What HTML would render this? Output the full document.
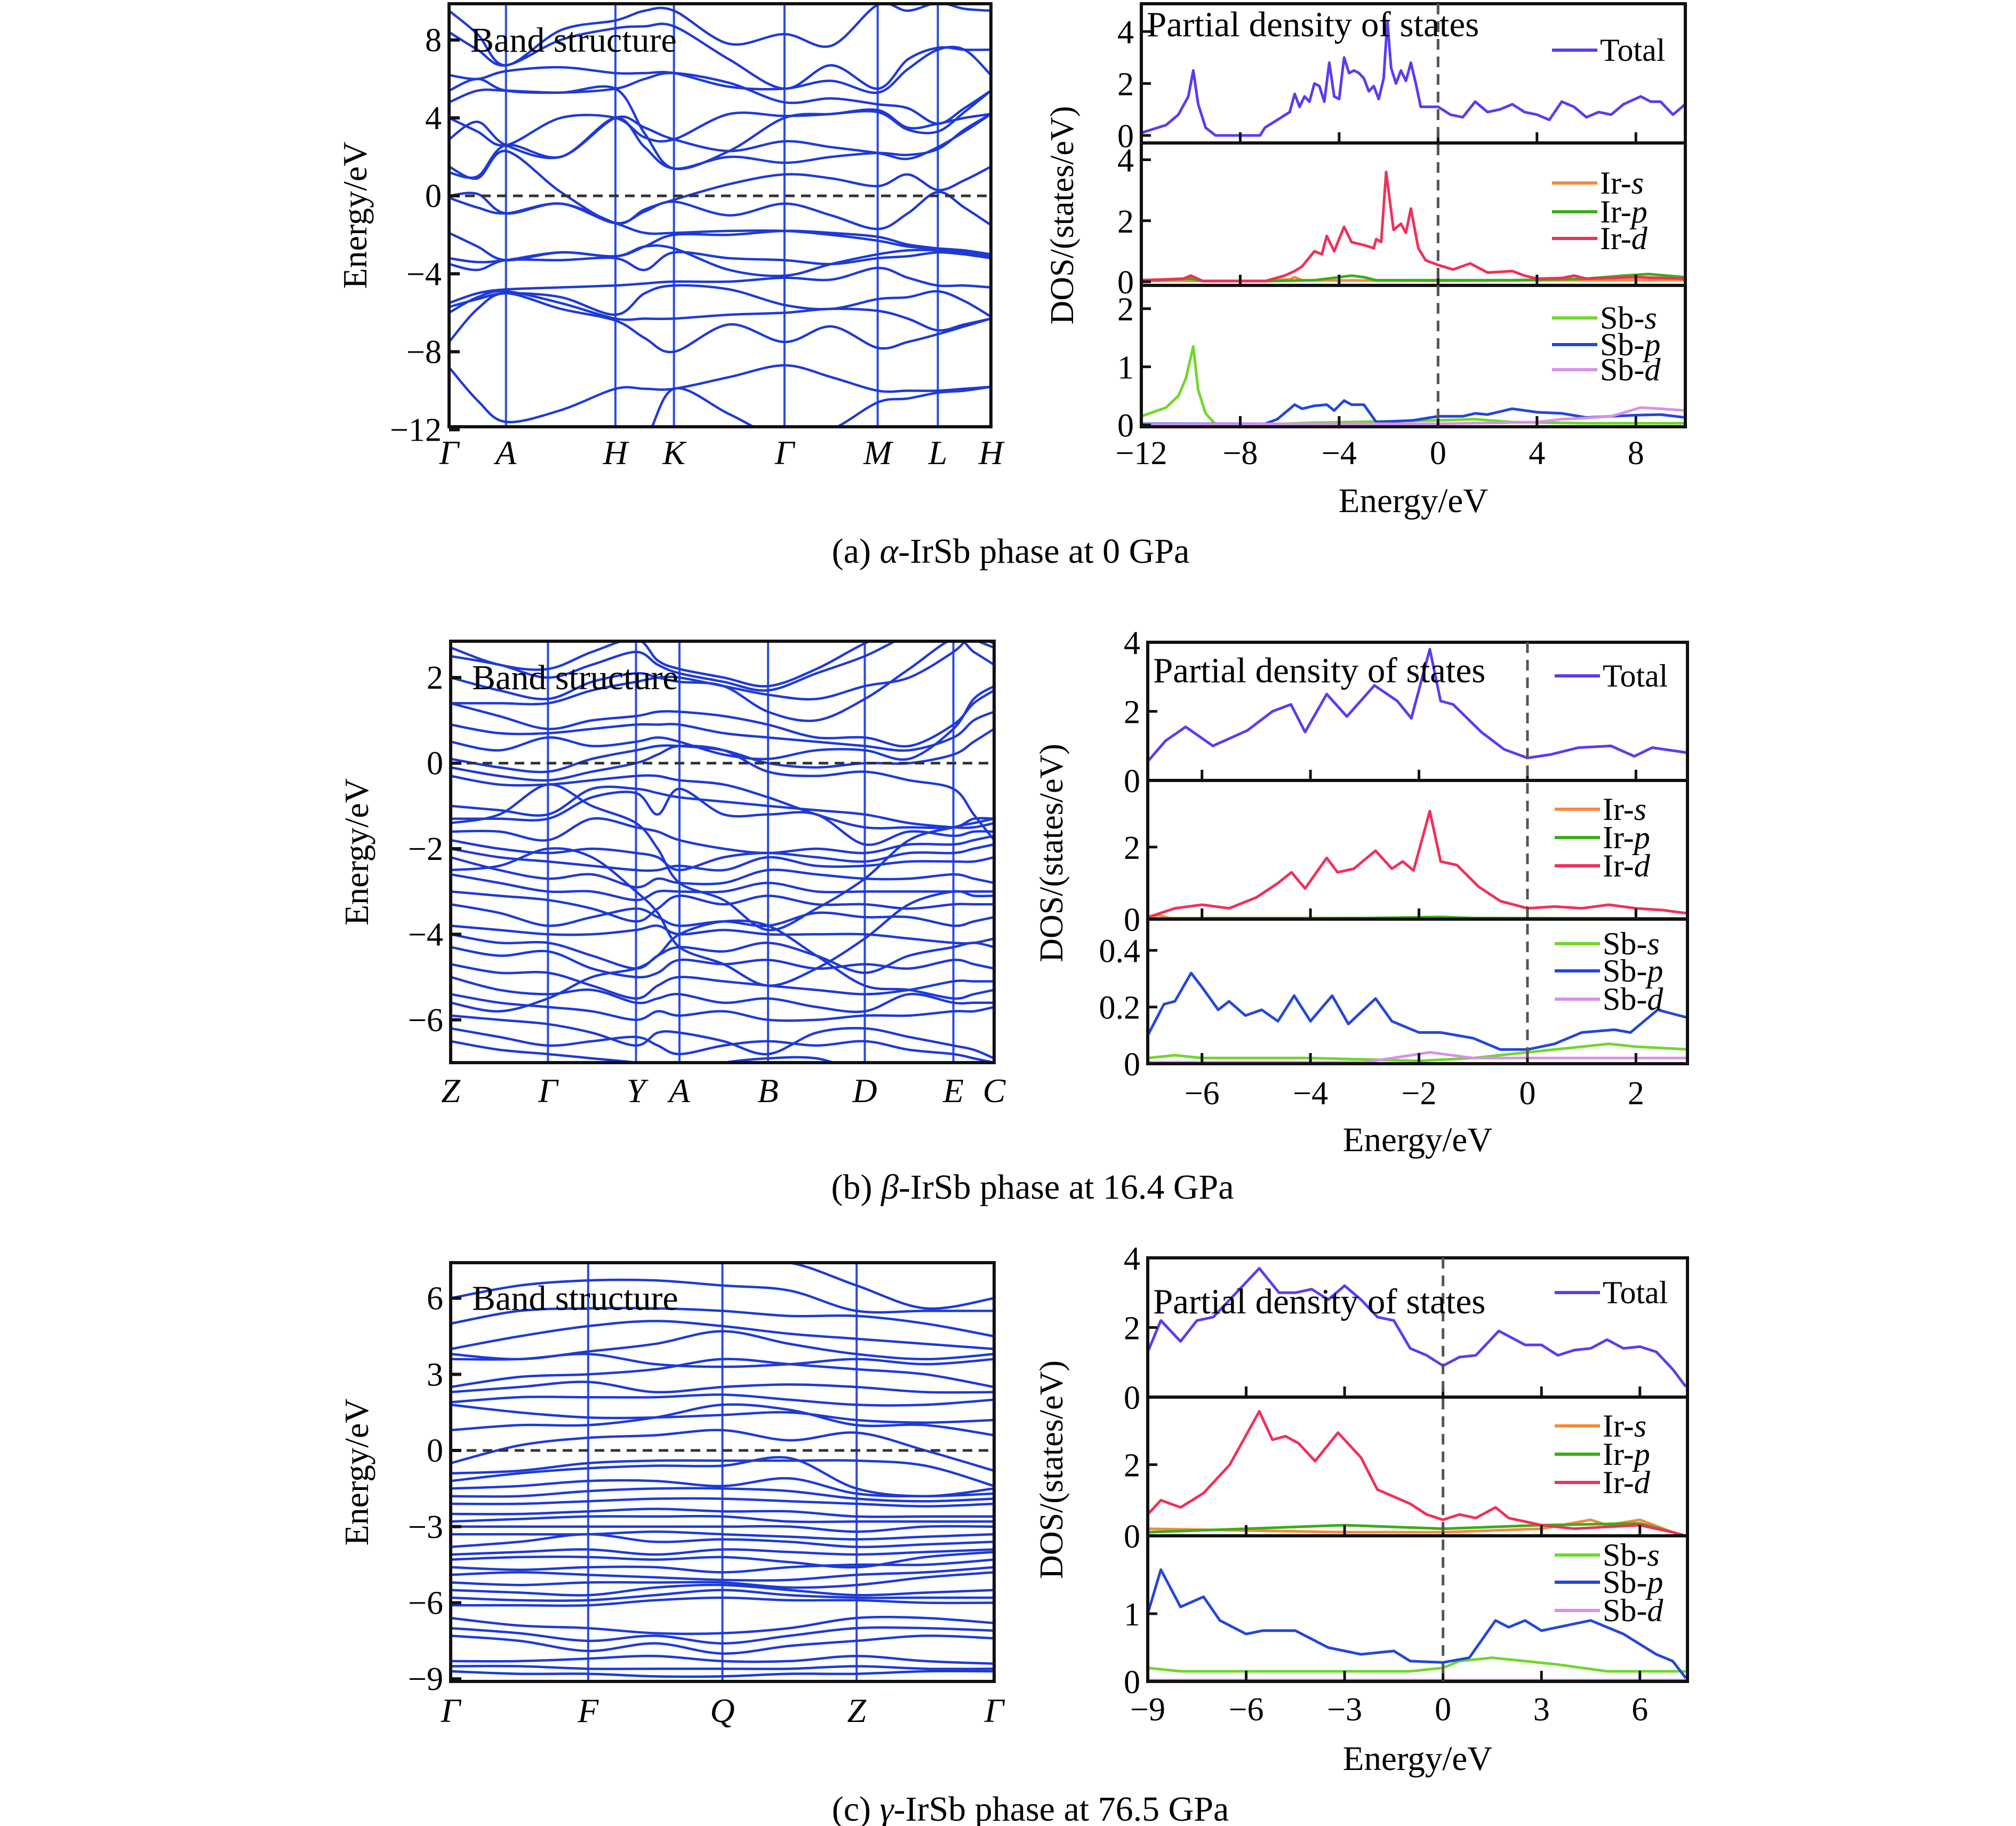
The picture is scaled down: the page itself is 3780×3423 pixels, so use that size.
<!DOCTYPE html>
<html><head><meta charset="utf-8">
<style>
html,body{margin:0;padding:0;background:#fff;}
svg{display:block;font-family:"Liberation Serif",serif;}
</style></head>
<body>
<svg id="fig" xmlns="http://www.w3.org/2000/svg" width="3780" height="3423" viewBox="0 0 3780 3423">
<rect x="0" y="0" width="3780" height="3423" fill="#fff"/>
<g id="root"></g>
<text x="1895" y="1055" font-size="66" text-anchor="middle">(a) <tspan font-style="italic">α</tspan>-IrSb phase at 0 GPa</text>
<text x="1936" y="2247" font-size="66" text-anchor="middle">(b) <tspan font-style="italic">β</tspan>-IrSb phase at 16.4 GPa</text>
<text x="1932" y="3413" font-size="66" text-anchor="middle">(c) <tspan font-style="italic">γ</tspan>-IrSb phase at 76.5 GPa</text>
</svg>
<script>
// ---------------- DATA ----------------
const kLabelsA = ["Γ","A","H","K","Γ","M","L","H"];
const kFracA = [0,0.105,0.307,0.415,0.619,0.791,0.902,1];
const bandsA = [
[-8.8,-10.5,-11.6,-11.0,-9.9,-9.9,-9.9,-9.3,-8.7,-9.3,-10.0,-10.0,-10.0,-9.9,-9.8],
[-12.5,-12.5,-12.2,-12.5,-12.5,-12.5,-9.9,-11.2,-12.5,-12.0,-10.6,-10.4,-10.1,-10.0,-9.8],
[-7.5,-5.8,-5.0,-5.8,-6.4,-7.3,-8.0,-6.6,-7.5,-6.7,-7.8,-7.5,-7.1,-6.7,-6.3],
[-6.0,-5.2,-4.9,-5.5,-6.3,-6.3,-6.3,-6.1,-6.0,-5.8,-5.9,-6.3,-6.9,-6.6,-6.3],
[-5.7,-5.3,-5.0,-5.2,-6.1,-5.0,-4.6,-4.8,-5.6,-5.8,-5.3,-5.2,-4.9,-5.4,-6.2],
[-5.5,-5.0,-4.8,-4.7,-4.6,-4.5,-4.4,-4.4,-4.2,-4.3,-3.7,-4.2,-4.6,-4.6,-4.7],
[-3.5,-3.8,-3.3,-3.3,-3.2,-3.8,-2.9,-3.2,-3.3,-3.5,-3.2,-3.1,-2.9,-3.0,-3.1],
[-3.2,-3.4,-3.3,-2.9,-3.1,-2.6,-2.7,-3.8,-4.1,-3.5,-3.0,-2.8,-2.8,-3.0,-3.2],
[-1.9,-2.6,-3.3,-2.9,-3.1,-2.6,-2.0,-2.0,-1.8,-1.9,-2.1,-2.5,-2.7,-2.9,-3.1],
[-0.1,-0.6,-0.9,-0.4,-1.4,-1.9,-1.9,-1.8,-1.8,-2.0,-2.3,-2.6,-2.7,-2.8,-3.0],
[0.0,0.1,-0.9,-0.4,-1.4,-0.8,-0.3,-1.0,-0.4,-1.0,-1.7,-0.9,0.2,-0.6,-1.5],
[1.5,0.9,2.3,0.2,-1.4,-0.7,-0.2,0.6,1.1,0.9,0.5,1.1,0.3,0.8,1.5],
[1.2,1.0,2.6,2.0,4.0,2.5,1.4,2.0,1.7,2.0,2.2,2.1,2.4,3.4,4.2],
[2.9,3.8,2.6,2.0,4.0,3.5,2.9,2.3,2.8,2.5,2.2,1.9,2.5,3.3,4.2],
[4.0,3.3,2.6,4.0,4.0,3.0,2.9,4.2,4.1,4.2,4.4,3.5,3.7,4.0,4.2],
[4.8,5.4,5.4,5.3,5.5,3.2,1.4,2.3,4.0,4.2,4.3,3.4,3.3,4.3,5.4],
[5.4,6.0,5.4,5.3,5.5,6.0,6.3,5.8,4.8,5.0,4.7,4.5,3.7,4.5,5.4],
[6.2,6.0,6.4,6.6,6.3,6.3,6.3,5.6,5.5,5.9,5.3,6.5,7.5,7.5,6.2],
[8.4,7.5,6.7,8.0,8.6,8.7,8.7,7.0,5.5,6.7,5.5,7.0,7.6,7.5,7.5],
[9.5,8.3,6.7,8.5,9.0,9.5,9.5,7.8,8.3,7.7,9.8,9.5,9.9,9.6,9.5]
];
const yTicksBandA = [8,4,0,-4,-8,-12];

const kLabelsB = ["Z","Γ","Y","A","B","D","E","C"];
const kFracB = [0,0.179,0.341,0.421,0.584,0.762,0.925,1];
const bandsB = [
[2.7,2.3,2.2,2.6,2.9,2.4,2.2,2.0,1.8,2.2,2.8,3.2,3.2,2.9,2.7],
[2.5,2.3,2.0,2.3,2.6,2.3,2.1,1.9,1.7,2.1,2.5,3.0,3.3,3.0,2.8],
[2.0,1.7,1.5,1.9,2.1,2.0,1.9,1.8,1.2,1.0,1.5,2.2,2.9,2.6,2.3],
[1.4,1.4,1.4,1.7,1.9,2.0,2.0,1.8,1.6,1.5,1.8,2.0,2.6,3.0,2.8],
[1.4,1.1,0.8,1.0,1.1,1.2,1.2,1.1,0.9,0.6,0.6,0.4,0.9,1.4,1.7],
[0.9,0.7,0.7,0.8,0.9,0.9,0.9,0.7,0.6,0.5,0.4,0.3,0.6,1.0,1.2],
[0.5,0.3,0.6,0.4,0.5,0.6,0.5,0.2,0.1,0.3,0.3,0.1,0.8,1.5,1.8],
[0.1,-0.1,-0.2,0.1,0.3,0.4,0.4,0.3,0.0,-0.1,0.0,0.0,0.2,0.5,0.8],
[-0.1,-0.3,-0.4,-0.2,0.0,0.2,0.4,0.3,-0.2,-0.3,-0.2,-0.4,-0.6,-1.2,-1.8],
[-0.3,-0.5,-0.5,-0.4,-0.3,-0.3,-0.4,-0.5,-0.8,-1.2,-1.5,-1.5,-1.5,-1.3,-1.3],
[-1.0,-1.1,-1.2,-0.6,-0.6,-0.7,-0.8,-0.9,-1.0,-1.1,-1.2,-1.4,-1.5,-1.5,-1.4],
[-1.3,-1.3,-1.3,-0.8,-0.7,-1.2,-0.6,-1.2,-1.2,-1.2,-1.9,-1.6,-1.7,-1.6,-1.6],
[-1.6,-1.6,-1.8,-1.3,-1.5,-1.6,-1.8,-2.0,-2.1,-2.0,-2.1,-1.9,-1.9,-1.8,-1.7],
[-1.8,-2.0,-2.1,-2.0,-2.1,-2.2,-2.5,-2.2,-2.1,-2.2,-2.3,-2.1,-2.1,-2.0,-1.9],
[-2.0,-2.2,-2.3,-2.4,-2.5,-2.5,-2.4,-2.5,-2.2,-2.4,-2.4,-2.3,-2.3,-2.3,-2.2],
[-2.2,-2.5,-2.7,-2.6,-2.9,-2.7,-2.8,-2.8,-2.5,-2.6,-2.7,-2.7,-2.6,-2.7,-2.8],
[-2.6,-2.8,-3.0,-3.0,-3.2,-3.0,-3.0,-3.0,-2.8,-3.0,-3.0,-3.0,-3.0,-3.0,-3.0],
[-3.0,-3.1,-3.2,-3.4,-3.7,-3.4,-3.1,-3.3,-3.1,-3.3,-3.3,-3.4,-3.3,-3.3,-3.3],
[-3.3,-3.5,-3.8,-3.6,-3.4,-3.6,-3.8,-3.7,-3.8,-3.5,-3.6,-3.6,-3.8,-3.7,-3.6],
[-3.8,-3.9,-4.0,-4.0,-3.9,-3.8,-4.0,-3.9,-4.0,-4.0,-4.0,-4.1,-4.2,-4.2,-4.1],
[-4.0,-4.2,-4.2,-4.5,-4.8,-4.5,-4.3,-4.4,-4.2,-4.5,-4.9,-4.5,-4.3,-4.2,-4.3],
[-4.3,-4.5,-4.4,-4.8,-5.0,-4.9,-4.6,-4.7,-4.6,-4.8,-4.7,-4.8,-4.6,-4.7,-4.8],
[-4.7,-4.9,-4.9,-5.2,-5.5,-5.2,-5.0,-5.1,-5.2,-5.3,-5.4,-5.3,-5.1,-5.1,-5.1],
[-5.0,-5.3,-5.4,-5.3,-5.6,-5.5,-5.4,-5.6,-5.5,-5.7,-5.8,-5.4,-5.6,-5.6,-5.6],
[-5.4,-5.6,-5.7,-5.8,-6.0,-5.8,-5.9,-5.8,-6.0,-6.0,-5.9,-5.9,-5.8,-5.8,-5.7],
[-5.9,-6.0,-6.1,-6.3,-6.6,-6.3,-6.3,-6.5,-6.8,-6.3,-6.2,-6.4,-6.6,-6.7,-6.9],
[-6.2,-6.4,-6.6,-6.5,-6.4,-6.6,-6.8,-6.6,-6.5,-6.6,-6.5,-6.7,-6.8,-6.9,-7.0],
[-6.5,-6.7,-6.8,-6.9,-7.0,-7.1,-7.2,-7.0,-6.9,-6.9,-7.2,-7.0,-7.1,-7.2,-7.3],
[-5.6,-5.8,-5.5,-5.0,-4.8,-4.5,-4.0,-3.7,-3.8,-4.5,-5.2,-5.3,-5.5,-5.4,-5.3],
[-1.4,-1.2,-0.5,-1.0,-1.4,-2.0,-2.8,-3.2,-3.9,-3.4,-2.7,-1.8,-1.5,-1.4,-1.3],
[-2.5,-2.4,-2.0,-2.2,-3.0,-3.5,-4.3,-4.7,-5.2,-4.8,-4.1,-3.3,-3.0,-3.1,-3.1]
];
const yTicksBandB = [2,0,-2,-4,-6];

const kLabelsC = ["Γ","F","Q","Z","Γ"];
const kFracC = [0,0.253,0.5,0.747,1];
const bandsC = [
[7.5,7.4,7.5,7.5,7.4,7.4,6.5,5.6,6.0],
[6.0,6.5,6.7,6.7,6.5,6.3,5.5,5.5,5.5],
[5.0,5.5,5.6,5.6,5.5,5.3,5.3,5.0,4.5],
[4.0,4.5,4.9,5.1,4.9,4.6,4.4,4.2,4.0],
[3.8,3.6,3.9,4.2,4.7,4.2,3.8,3.6,3.8],
[3.6,3.6,3.8,3.4,3.3,3.4,3.6,3.4,3.6],
[2.5,2.9,3.0,3.2,3.6,3.4,3.2,3.0,2.5],
[2.3,2.5,2.7,2.3,2.5,2.6,2.5,2.3,2.3],
[1.9,2.1,2.1,2.1,2.2,2.0,1.8,1.8,2.0],
[1.8,1.5,1.3,1.3,1.4,1.5,1.2,1.1,1.2],
[0.8,1.0,1.0,1.3,1.8,1.6,1.0,1.0,0.6],
[-0.5,0.2,0.5,0.6,0.8,0.4,0.7,0.0,-0.8],
[-0.9,-0.8,-0.5,-0.4,-0.4,-0.4,-0.4,-0.6,-1.4],
[-1.2,-0.9,-0.7,-0.6,-0.6,-0.3,-1.5,-1.8,-1.5],
[-1.5,-1.4,-1.2,-1.2,-1.4,-1.1,-1.7,-1.8,-1.7],
[-1.8,-1.8,-1.6,-1.5,-1.5,-1.6,-1.9,-2.0,-1.9],
[-2.1,-2.1,-2.0,-1.9,-1.9,-2.0,-2.1,-2.2,-2.1],
[-2.5,-2.5,-2.4,-2.3,-2.4,-2.4,-2.6,-2.6,-2.6],
[-2.8,-2.7,-2.6,-2.6,-2.6,-2.8,-2.8,-2.8,-2.8],
[-3.0,-3.0,-3.0,-3.0,-3.0,-3.0,-3.2,-3.0,-3.0],
[-3.3,-3.3,-3.3,-3.2,-3.3,-3.4,-3.5,-3.4,-3.3],
[-3.8,-3.6,-3.3,-3.6,-3.5,-3.6,-3.8,-3.7,-3.6],
[-4.1,-4.0,-3.9,-4.1,-3.9,-4.0,-4.1,-4.0,-3.9],
[-4.3,-4.2,-4.2,-4.3,-4.2,-4.4,-4.6,-4.2,-4.0],
[-4.6,-4.7,-4.6,-4.6,-4.8,-4.6,-4.5,-4.5,-4.3],
[-4.9,-4.8,-4.9,-5.0,-5.1,-5.1,-4.9,-4.8,-4.6],
[-5.2,-5.3,-5.2,-5.2,-5.2,-5.4,-5.3,-5.0,-4.8],
[-5.5,-5.6,-5.7,-5.4,-5.3,-5.5,-5.7,-5.6,-5.5],
[-5.8,-5.9,-5.9,-5.7,-5.5,-5.7,-5.8,-5.8,-5.8],
[-6.1,-6.1,-6.1,-5.9,-5.8,-5.9,-5.9,-6.0,-6.0],
[-6.6,-6.9,-7.0,-7.2,-7.2,-7.0,-6.6,-6.6,-6.8],
[-7.0,-7.2,-7.5,-7.3,-7.6,-7.3,-7.0,-7.0,-7.1],
[-7.3,-7.5,-7.9,-7.6,-8.0,-7.7,-7.5,-7.3,-7.4],
[-8.3,-8.3,-8.2,-8.1,-8.3,-8.3,-8.1,-8.3,-8.4],
[-8.5,-8.5,-8.6,-8.6,-8.6,-8.6,-8.5,-8.6,-8.6],
[-8.7,-8.8,-8.8,-8.9,-8.9,-8.8,-8.8,-8.7,-8.7]
];
const yTicksBandC = [6,3,0,-3,-6,-9];

// DOS series: [energy, dos] pairs
const totalA = [[-12,0.1],[-11,0.4],[-10.5,0.8],[-10.1,1.5],[-9.9,2.5],[-9.7,1.2],[-9.4,0.3],[-9,0],[-7.2,0],[-7,0.3],[-6.5,0.6],[-6,0.9],[-5.8,1.6],[-5.6,1.1],[-5.4,1.5],[-5.2,1.3],[-5,2.0],[-4.8,1.9],[-4.6,1.3],[-4.4,2.8],[-4.2,1.5],[-4,1.4],[-3.8,3.0],[-3.6,2.4],[-3.4,2.5],[-3.2,2.4],[-3,2.2],[-2.8,1.7],[-2.6,1.9],[-2.4,1.4],[-2.2,2.2],[-2.05,4.4],[-1.9,2.6],[-1.7,2.0],[-1.5,2.5],[-1.3,2.1],[-1.1,2.8],[-0.9,2.0],[-0.7,1.1],[-0.4,1.1],[0,1.1],[0.5,0.8],[1,0.7],[1.5,1.3],[2,0.9],[2.5,1.0],[3,1.2],[3.5,0.9],[4,0.8],[4.5,0.6],[5,1.3],[5.5,1.1],[6,0.7],[6.5,0.9],[7,0.8],[7.5,1.2],[8.2,1.5],[8.6,1.3],[9,1.3],[9.5,0.8],[10,1.2]];
const irSA = [[-12,0.03],[-7,0.03],[-6,0.08],[-5.8,0.15],[-5.5,0.05],[-3,0.04],[0,0.03],[5,0.05],[10,0.05]];
const irPA = [[-12,0.03],[-10,0.1],[-9.5,0.02],[-7,0.02],[-5,0.05],[-3.5,0.2],[-3,0.15],[-2.5,0.05],[0,0.05],[3,0.05],[6,0.1],[7.5,0.2],[8.5,0.25],[10,0.15]];
const irDA = [[-12,0.05],[-10.3,0.1],[-10,0.2],[-9.5,0.02],[-7,0.02],[-6.2,0.2],[-5.8,0.35],[-5.5,0.5],[-5,1.0],[-4.7,0.9],[-4.5,1.5],[-4.2,1.0],[-3.8,1.8],[-3.5,1.3],[-3,1.2],[-2.6,1.1],[-2.5,1.4],[-2.3,1.3],[-2.1,3.6],[-1.8,1.7],[-1.5,1.9],[-1.3,1.6],[-1.1,2.4],[-0.8,1.1],[-0.5,0.7],[0,0.55],[0.6,0.4],[1.3,0.6],[2,0.3],[3,0.35],[3.5,0.2],[4,0.1],[5,0.12],[5.5,0.2],[6,0.1],[8,0.15],[10,0.1]];
const sbSA = [[-12,0.15],[-11,0.3],[-10.5,0.5],[-10.2,0.8],[-9.9,1.35],[-9.7,0.6],[-9.4,0.2],[-9,0.01],[-7,0.01],[-5,0.04],[0,0.08],[1.5,0.1],[3,0.05],[6,0.03],[10,0.03]];
const sbPA = [[-12,0.02],[-7,0.02],[-6.5,0.1],[-5.8,0.35],[-5.5,0.28],[-5,0.33],[-4.5,0.35],[-4.2,0.25],[-3.8,0.42],[-3.5,0.35],[-3,0.35],[-2.5,0.05],[-1,0.08],[0,0.15],[1,0.15],[1.5,0.2],[2,0.18],[3,0.28],[4,0.22],[5,0.2],[6,0.13],[7,0.15],[8,0.17],[9,0.18],[10,0.13]];
const sbDA = [[-12,0.01],[-5,0.02],[0,0.02],[4,0.05],[5,0.1],[6,0.12],[7,0.15],[8.2,0.3],[9,0.28],[10,0.25]];

const totalB = [[-7,0.55],[-6.67,1.15],[-6.3,1.55],[-5.8,1.0],[-5.16,1.45],[-4.7,2.0],[-4.36,2.2],[-4.1,1.4],[-3.7,2.5],[-3.33,1.85],[-2.82,2.75],[-2.4,2.3],[-2.14,1.8],[-1.8,3.8],[-1.6,2.3],[-1.37,2.2],[-0.85,1.4],[-0.43,0.9],[0,0.65],[0.43,0.75],[0.94,0.95],[1.54,1.0],[1.97,0.7],[2.3,0.95],[2.96,0.8]];
const irSB = [[-7,0.02],[-6.8,0.12],[-6.6,0.03],[0,0.02],[3,0.02]];
const irPB = [[-7,0.02],[-3,0.03],[-1.6,0.06],[-1,0.03],[3,0.02]];
const irDB = [[-7,0.05],[-6.5,0.3],[-6,0.4],[-5.5,0.3],[-5,0.6],[-4.6,1.0],[-4.35,1.3],[-4.1,0.85],[-3.7,1.7],[-3.5,1.3],[-3.2,1.4],[-2.8,1.9],[-2.5,1.4],[-2.3,1.6],[-2.1,1.35],[-1.8,3.0],[-1.6,1.6],[-1.3,1.5],[-0.9,0.9],[-0.5,0.5],[0,0.3],[0.5,0.35],[1,0.3],[1.5,0.4],[2,0.3],[2.5,0.25],[3,0.15]];
const sbSB = [[-7,0.02],[-6.5,0.03],[-6,0.02],[-4,0.02],[-2,0.01],[-1,0.02],[0,0.04],[1,0.06],[1.5,0.07],[2,0.06],[3,0.05]];
const sbPB = [[-7,0.1],[-6.7,0.21],[-6.5,0.22],[-6.2,0.32],[-6,0.27],[-5.7,0.19],[-5.5,0.22],[-5.2,0.17],[-4.9,0.19],[-4.6,0.15],[-4.3,0.24],[-4.0,0.15],[-3.6,0.24],[-3.3,0.14],[-2.8,0.23],[-2.5,0.15],[-2.0,0.11],[-1.6,0.11],[-1.0,0.09],[-0.5,0.05],[0,0.05],[0.5,0.07],[1,0.11],[1.6,0.12],[1.9,0.11],[2.4,0.19],[3,0.16]];
const sbDB = [[-7,0.005],[-3,0.005],[-1.8,0.04],[-1,0.02],[0,0.02],[3,0.02]];

const totalC = [[-9,1.3],[-8.6,2.2],[-8,1.6],[-7.5,2.2],[-7,2.3],[-6.5,2.8],[-5.6,3.7],[-5,3.0],[-4.5,3.0],[-4,3.1],[-3.5,2.8],[-3.0,3.2],[-2.5,2.8],[-2,2.3],[-1.5,2.2],[-1,1.4],[-0.5,1.2],[0,0.9],[0.5,1.15],[1,1.2],[1.7,1.9],[2.5,1.5],[3,1.5],[3.5,1.2],[4,1.35],[4.5,1.4],[5,1.65],[5.5,1.4],[6,1.45],[6.5,1.3],[7,0.8],[7.4,0.3]];
const irSC = [[-9,0.2],[-6,0.15],[-3,0.1],[0,0.1],[3,0.2],[4.5,0.45],[5,0.3],[6,0.45],[7,0.1],[7.4,0]];
const irPC = [[-9,0.1],[-6,0.2],[-3,0.3],[0,0.2],[3,0.3],[6,0.35],[7,0.1],[7.4,0]];
const irDC = [[-9,0.6],[-8.6,1.0],[-8,0.8],[-7.3,1.2],[-6.5,2.0],[-5.6,3.5],[-5.2,2.7],[-4.8,2.8],[-4.4,2.6],[-3.9,2.1],[-3.2,2.9],[-2.5,2.2],[-2,1.3],[-1,0.9],[-0.5,0.6],[0,0.45],[0.5,0.6],[1,0.5],[1.6,0.8],[2,0.5],[3,0.3],[4,0.2],[5,0.25],[6,0.3],[7,0.1],[7.4,0]];
const sbSC = [[-9,0.2],[-8,0.15],[-4,0.15],[-1,0.15],[0,0.2],[0.5,0.3],[1.5,0.35],[2.5,0.3],[3.5,0.25],[5,0.15],[7.4,0.15]];
const sbPC = [[-9,1.0],[-8.6,1.65],[-8,1.1],[-7.3,1.25],[-6.8,0.9],[-6,0.7],[-5.5,0.75],[-4.5,0.75],[-3.5,0.5],[-2.5,0.4],[-1.5,0.45],[-1,0.3],[0,0.28],[0.8,0.35],[1.6,0.9],[2,0.8],[2.5,0.9],[3,0.75],[3.5,0.8],[4.5,0.9],[5.5,0.7],[6.5,0.4],[7.0,0.3],[7.4,0.05]];
const sbDC = [[-9,0.02],[0,0.02],[7.4,0.02]];

const xTicksA = [-12,-8,-4,0,4,8];
const xTicksB = [-6,-4,-2,0,2];
const xTicksC = [-9,-6,-3,0,3,6];

// ---------------- DRAWING ----------------
const NS = "http://www.w3.org/2000/svg";
const root = document.getElementById("root");
function el(tag, attrs, parent){
  const e = document.createElementNS(NS, tag);
  for (const k in attrs) e.setAttribute(k, attrs[k]);
  (parent||root).appendChild(e);
  return e;
}
function smoothPath(pts){
  if(pts.length<2) return "";
  let d = "M"+pts[0][0].toFixed(1)+","+pts[0][1].toFixed(1);
  for(let i=0;i<pts.length-1;i++){
    const p0=pts[i-1]||pts[i], p1=pts[i], p2=pts[i+1], p3=pts[i+2]||p2;
    const c1=[p1[0]+(p2[0]-p0[0])/6, p1[1]+(p2[1]-p0[1])/6];
    const c2=[p2[0]-(p3[0]-p1[0])/6, p2[1]-(p3[1]-p1[1])/6];
    d+=" C"+c1[0].toFixed(1)+","+c1[1].toFixed(1)+" "+c2[0].toFixed(1)+","+c2[1].toFixed(1)+" "+p2[0].toFixed(1)+","+p2[1].toFixed(1);
  }
  return d;
}
function linePath(pts){
  return pts.map((p,i)=>(i?"L":"M")+p[0].toFixed(1)+","+p[1].toFixed(1)).join(" ");
}

let clipId = 0;
function bandPanel(id, x0,x1,y0,y1, emin,emax, frac, labels, bands, yticks, labelY){
  const g = el("g", {});
  
  
  const sx = f => x0 + f*(x1-x0);
  const sy = e => y1 - (e-emin)/(emax-emin)*(y1-y0);
  const cid = "clip"+(clipId++);
  const cp = el("clipPath", {id:cid}, g);
  el("rect", {x:x0, y:y0, width:x1-x0, height:y1-y0}, cp);
  for(let i=1;i<frac.length-1;i++){
    const l = el("line", {x1:sx(frac[i]), x2:sx(frac[i]), y1:y0, y2:y1, stroke:"#2a4be0", "stroke-width":4}, g);
    
    
  }
  const pos = [];
  for(let i=0;i<frac.length;i++){ pos.push(frac[i]); if(i<frac.length-1) pos.push((frac[i]+frac[i+1])/2); }
  const bg = el("g", {"clip-path":"url(#"+cid+")"}, g);
  bands.forEach(b=>{
    const pts = b.map((e,i)=>[sx(pos[i]), sy(e)]);
    const p = el("path", {d:smoothPath(pts), fill:"none", stroke:"#1e3ad6", "stroke-width":4.5}, bg);
    
    
  });
  const fl = el("line", {x1:x0, x2:x1, y1:sy(0), y2:sy(0), stroke:"#333", "stroke-width":5, "stroke-dasharray":"18,12"}, g);
  
  
  const fr = el("rect", {x:x0, y:y0, width:x1-x0, height:y1-y0, fill:"none", stroke:"#111", "stroke-width":6}, g);
  
  
  yticks.forEach(t=>{
    const tk = el("line", {x1:x0, x2:x0+20, y1:sy(t), y2:sy(t), stroke:"#111", "stroke-width":6}, g);
    
    
    const tx = el("text", {x:x0-14, y:sy(t)+21, "font-size":62, "text-anchor":"end"}, g);
    tx.textContent = (t<0?"−":"")+Math.abs(t);
    
    
  });
  labels.forEach((lb,i)=>{
    const tx = el("text", {x:sx(frac[i]), y:labelY, "font-size":64, "font-style":"italic", "text-anchor":"middle"}, g);
    tx.textContent = lb;
    
    
  });
  const bt = el("text", {x:x0+40, y:sy(yticks[0])+22, "font-size":66}, g);
  bt.textContent = "Band structure";
  
  
  const yl = el("text", {x:0, y:0, "font-size":64, "text-anchor":"middle", transform:"translate("+(x0-155)+","+((y0+y1)/2)+") rotate(-90)"}, g);
  yl.textContent = "Energy/eV";
  
  
}

const COL = {total:"#5a3cf0", irs:"#f58a3c", irp:"#3aae16", ird:"#f0305a", sbs:"#6fd82a", sbp:"#2347d8", sbd:"#d890ea"};

function dosPanel(id, x0,x1, xmin,xmax, xticks, subs, tickLabelY, titleY, ylabelX, legendX){
  const g = el("g", {});
  
  
  const sx = e => x0 + (e-xmin)/(xmax-xmin)*(x1-x0);
  subs.forEach((s,si)=>{
    const sy = v => s.b - (v-s.ymin)/(s.ymax-s.ymin)*(s.b-s.t);
    const cid = "clip"+(clipId++);
    const cp = el("clipPath", {id:cid}, g);
    el("rect", {x:x0, y:s.t, width:x1-x0, height:s.b-s.t}, cp);
    const sg = el("g", {"clip-path":"url(#"+cid+")"}, g);
    s.series.forEach(se=>{
      const pts = se.data.map(p=>[sx(p[0]), sy(p[1])]);
      const p = el("path", {d:linePath(pts), fill:"none", stroke:se.color, "stroke-width":5, "stroke-linejoin":"round"}, sg);
      
      
    });
    xticks.forEach(t=>{
      const tk = el("line", {x1:sx(t), x2:sx(t), y1:s.b, y2:s.b-20, stroke:"#111", "stroke-width":5}, g);
      
      
    });
    s.yticks.forEach(t=>{
      const tk = el("line", {x1:x0, x2:x0+18, y1:sy(t), y2:sy(t), stroke:"#111", "stroke-width":5}, g);
      
      
      const tx = el("text", {x:x0-14, y:sy(t)+22, "font-size":62, "text-anchor":"end"}, g);
      tx.textContent = String(t);
      
      
    });
    s.series.forEach((se,i)=>{
      if(!se.label) return;
      const ly = s.legY[i];
      const ll = el("line", {x1:legendX-90, x2:legendX-5, y1:ly, y2:ly, stroke:se.color, "stroke-width":6}, g);
      
      
      const lt = el("text", {x:legendX, y:ly+20, "font-size":60}, g);
      
      
      if(se.label.indexOf("-")>0){
        const parts = se.label.split("-");
        lt.appendChild(document.createTextNode(parts[0]+"-"));
        const ts = el("tspan", {"font-style":"italic"}, lt);
        ts.textContent = parts[1];
      } else lt.textContent = se.label;
    });
    const fr = el("rect", {x:x0, y:s.t, width:x1-x0, height:s.b-s.t, fill:"none", stroke:"#111", "stroke-width":6}, g);
    
    
  });
  const top = subs[0].t, bot = subs[subs.length-1].b;
  const zl = el("line", {x1:sx(0), x2:sx(0), y1:top, y2:bot, stroke:"#555", "stroke-width":5, "stroke-dasharray":"20,13"}, g);
  
  
  xticks.forEach(t=>{
    const tx = el("text", {x:sx(t), y:tickLabelY, "font-size":62, "text-anchor":"middle"}, g);
    tx.textContent = (t<0?"−":"")+Math.abs(t);
    
    
  });
  const xt = el("text", {x:(x0+x1)/2, y:titleY, "font-size":65, "text-anchor":"middle"}, g);
  xt.textContent = "Energy/eV";
  
  
  const yl = el("text", {x:0, y:0, "font-size":62, "text-anchor":"middle", transform:"translate("+ylabelX+","+((top+bot)/2)+") rotate(-90)"}, g);
  yl.textContent = "DOS/(states/eV)";
  
  
  const pt = el("text", {x:x0+10, y:subs[0].titleY, "font-size":67}, g);
  pt.textContent = "Partial density of states";
  
  
}

// ---- Panel (a)
bandPanel("a", 842,1858, 7,800, -11.85,9.86, kFracA, kLabelsA, bandsA, yTicksBandA, 870);
dosPanel("a", 2140,3160, -12,10, xTicksA, [
 {t:7,b:268,ymin:-0.29,ymax:5.07,yticks:[0,2,4],titleY:68,legY:[94],
  series:[{name:"total",label:"Total",color:COL.total,data:totalA}]},
 {t:268,b:535,ymin:-0.12,ymax:4.55,yticks:[0,2,4],legY:[343,397,447],
  series:[{name:"ir-s",label:"Ir-s",color:COL.irs,data:irSA},{name:"ir-p",label:"Ir-p",color:COL.irp,data:irPA},{name:"ir-d",label:"Ir-d",color:COL.ird,data:irDA}]},
 {t:535,b:800,ymin:-0.03,ymax:2.4,yticks:[0,1,2],legY:[596,646,693],
  series:[{name:"sb-s",label:"Sb-s",color:COL.sbs,data:sbSA},{name:"sb-p",label:"Sb-p",color:COL.sbp,data:sbPA},{name:"sb-d",label:"Sb-d",color:COL.sbd,data:sbDA}]}
], 870, 960, 2012, 3000);

// ---- Panel (b)
bandPanel("b", 845,1864, 1202,1992, -7,2.85, kFracB, kLabelsB, bandsB, yTicksBandB, 2066);
dosPanel("b", 2152,3164, -7,2.95, xTicksB, [
 {t:1204,b:1463,ymin:0,ymax:4,yticks:[0,2,4],titleY:1279,legY:[1267],
  series:[{name:"total",label:"Total",color:COL.total,data:totalB}]},
 {t:1463,b:1723,ymin:0,ymax:3.85,yticks:[0,2],legY:[1517,1570,1623],
  series:[{name:"ir-s",label:"Ir-s",color:COL.irs,data:irSB},{name:"ir-p",label:"Ir-p",color:COL.irp,data:irPB},{name:"ir-d",label:"Ir-d",color:COL.ird,data:irDB}]},
 {t:1723,b:1994,ymin:0,ymax:0.51,yticks:[0,0.2,0.4],legY:[1769,1820,1873],
  series:[{name:"sb-s",label:"Sb-s",color:COL.sbs,data:sbSB},{name:"sb-p",label:"Sb-p",color:COL.sbp,data:sbPB},{name:"sb-d",label:"Sb-d",color:COL.sbd,data:sbDB}]}
], 2070, 2158, 1992, 3005);

// ---- Panel (c)
bandPanel("c", 845,1864, 2367,3152, -9.1,7.4, kFracC, kLabelsC, bandsC, yTicksBandC, 3228);
dosPanel("c", 2152,3164, -9,7.45, xTicksC, [
 {t:2358,b:2619,ymin:0,ymax:4,yticks:[0,2,4],titleY:2462,legY:[2423],
  series:[{name:"total",label:"Total",color:COL.total,data:totalC}]},
 {t:2619,b:2879,ymin:0,ymax:3.9,yticks:[0,2],legY:[2673,2726,2779],
  series:[{name:"ir-s",label:"Ir-s",color:COL.irs,data:irSC},{name:"ir-p",label:"Ir-p",color:COL.irp,data:irPC},{name:"ir-d",label:"Ir-d",color:COL.ird,data:irDC}]},
 {t:2879,b:3152,ymin:0,ymax:2.15,yticks:[0,1],legY:[2915,2966,3019],
  series:[{name:"sb-s",label:"Sb-s",color:COL.sbs,data:sbSC},{name:"sb-p",label:"Sb-p",color:COL.sbp,data:sbPC},{name:"sb-d",label:"Sb-d",color:COL.sbd,data:sbDC}]}
], 3225, 3318, 1992, 3005);
</script>
</body></html>
